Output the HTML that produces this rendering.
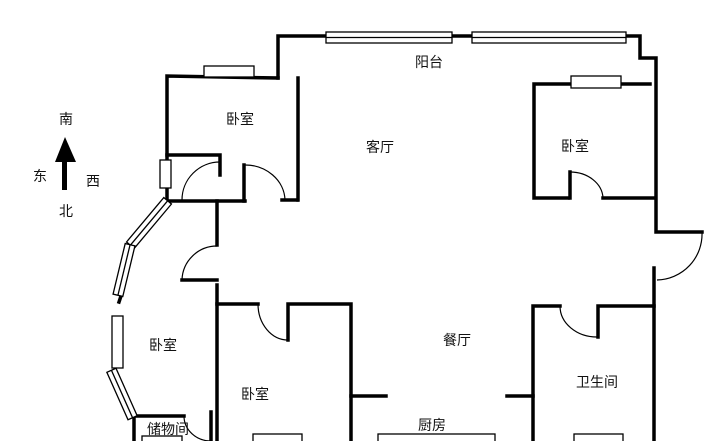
<!DOCTYPE html><html><head><style>html,body{margin:0;padding:0;background:#fff}svg{display:block}text{font-family:"Liberation Sans","Noto Sans CJK SC",sans-serif;font-size:14px;fill:#111}</style></head><body>
<svg width="712" height="441" viewBox="0 0 712 441" xmlns="http://www.w3.org/2000/svg">
<g stroke="#000" stroke-width="3.5" fill="none" stroke-linecap="square">
<polyline points="278,78 278,36 640,36 640,58 656,58 656,232 702,232"/>
<line x1="654" y1="268" x2="654" y2="441"/>
<polyline points="278,78 167,76 167,201 245,201"/>
<line x1="298" y1="78" x2="298" y2="200"/>
<line x1="282" y1="200" x2="297" y2="200"/>
<polyline points="167,155 220,155 220,175"/>
<line x1="244" y1="165" x2="244" y2="201"/>
<polyline points="650,84 534,84 534,198 568,198"/>
<line x1="570" y1="172" x2="570" y2="198"/>
<line x1="603" y1="198" x2="654" y2="198"/>
<line x1="217" y1="201" x2="217" y2="245"/>
<line x1="182" y1="280" x2="217" y2="280"/>
<line x1="217" y1="285" x2="217" y2="441"/>
<polyline points="217,304 258,304"/>
<polyline points="288,340 288,304 351,304 351,441"/>
<line x1="351" y1="396" x2="386" y2="396"/>
<line x1="507" y1="396" x2="533" y2="396"/>
<polyline points="533,441 533,306 560,306"/>
<polyline points="598,337 598,306 654,306"/>
<polyline points="134,441 134,416 184,416"/>
<line x1="211" y1="412" x2="211" y2="441"/>
<line x1="119" y1="302" x2="121" y2="296"/>
</g>
<g stroke="#000" stroke-width="1.3" fill="#fff">
<rect x="326" y="32" width="126" height="11"/><line x1="326" y1="37.5" x2="452" y2="37.5"/>
<rect x="472" y="32" width="154" height="11"/><line x1="472" y1="37.5" x2="626" y2="37.5"/>
<rect x="204" y="66" width="50" height="11"/>
<rect x="571" y="76" width="50" height="12"/>
<rect x="160" y="160" width="11" height="28"/>
<g transform="translate(149,223) rotate(130)"><rect x="-29" y="-5" width="58" height="10"/><line x1="-29" y1="0" x2="29" y2="0"/></g>
<g transform="translate(124,270) rotate(103.5)"><rect x="-26" y="-5" width="52" height="10"/><line x1="-26" y1="0" x2="26" y2="0"/></g>
<rect x="112" y="316" width="11" height="52"/>
<g transform="translate(122,394) rotate(66)"><rect x="-26" y="-5" width="52" height="10"/><line x1="-26" y1="0" x2="26" y2="0"/></g>
<rect x="142" y="436" width="40" height="8"/>
<rect x="253" y="434" width="49" height="10"/>
<rect x="378" y="434" width="117" height="10"/>
<rect x="574" y="434" width="49" height="10"/>
</g>
<g stroke="#000" stroke-width="1.2" fill="none">
<path d="M182,200 A38,38 0 0 1 220,162"/>
<path d="M244,165 A40,36 0 0 1 285,200"/>
<path d="M570,172 A33,27 0 0 1 603,198"/>
<path d="M702,232 A46,46 0 0 1 657,280"/>
<path d="M182,280 A35,35 0 0 1 217,246"/>
<path d="M258,304 A30,36 0 0 0 288,340"/>
<path d="M560,306 A37,31 0 0 0 597,337"/>
<path d="M184,416 A27,25 0 0 0 211,441"/>
</g>
<polygon points="65,137 55,162 76,162" fill="#000"/>
<rect x="62" y="160" width="5" height="30" fill="#000"/>
<text x="59" y="124">南</text><text x="33" y="181">东</text><text x="86" y="186">西</text><text x="59" y="216">北</text>
<text x="226" y="124">卧室</text><text x="366" y="152">客厅</text><text x="415" y="67">阳台</text>
<text x="561" y="151">卧室</text><text x="149" y="350">卧室</text><text x="241" y="399">卧室</text>
<text x="443" y="345">餐厅</text><text x="418" y="430">厨房</text><text x="576" y="387">卫生间</text>
<text x="147" y="434">储物间</text>
</svg></body></html>
